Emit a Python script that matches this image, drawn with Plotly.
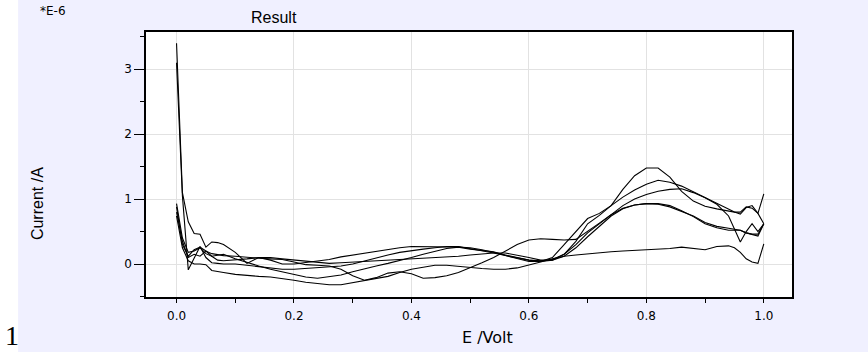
import plotly.graph_objects as go

# shared potential grid (V)
E_volt = [0.00, 0.01, 0.02, 0.03, 0.04, 0.05, 0.06, 0.07, 0.08,
          0.10, 0.12, 0.14, 0.16, 0.18, 0.20, 0.22, 0.24, 0.26, 0.28, 0.30,
          0.32, 0.34, 0.36, 0.38, 0.40, 0.42, 0.44, 0.46, 0.48, 0.50,
          0.52, 0.54, 0.56, 0.58, 0.60, 0.62, 0.64, 0.66, 0.68, 0.70,
          0.72, 0.74, 0.76, 0.78, 0.80, 0.82, 0.84, 0.86, 0.88, 0.90,
          0.92, 0.94, 0.95, 0.96, 0.97, 0.98, 0.99, 1.00]

# currents in units of 1E-6 A
scan_a = [3.40, 1.10, 0.65, 0.47, 0.46, 0.26, 0.34, 0.33, 0.30,
          0.18, 0.01, 0.10, 0.06, 0.00, 0.00, 0.02, 0.04, 0.07, 0.11, 0.14,
          0.17, 0.20, 0.23, 0.25, 0.27, 0.27, 0.27, 0.27, 0.26, 0.23,
          0.21, 0.19, 0.13, 0.08, 0.04, 0.04, 0.10, 0.30, 0.50, 0.70,
          0.78, 0.90, 1.15, 1.36, 1.48, 1.48, 1.34, 1.12, 0.97, 0.89,
          0.85, 0.82, 0.80, 0.80, 0.88, 0.86, 0.78, 1.08]

scan_b = [3.10, 1.05, -0.09, 0.10, 0.27, 0.10, 0.02, 0.01, 0.00,
          0.00, -0.02, -0.04, -0.06, -0.08, -0.08, -0.07, -0.06, -0.05, -0.03, 0.00,
          0.05, 0.09, 0.14, 0.18, 0.21, 0.23, 0.25, 0.27, 0.27, 0.24,
          0.21, 0.17, 0.13, 0.09, 0.06, 0.04, 0.06, 0.15, 0.35, 0.62,
          0.75, 0.90, 1.03, 1.14, 1.23, 1.29, 1.26, 1.20, 1.11, 1.03,
          0.93, 0.84, 0.80, 0.77, 0.87, 0.90, 0.78, 0.62]

scan_c = [0.93, 0.40, 0.18, 0.20, 0.25, 0.16, 0.12, 0.14, 0.15,
          0.08, 0.02, -0.03, -0.08, -0.12, -0.16, -0.20, -0.22, -0.20, -0.17, -0.12,
          -0.07, -0.03, 0.01, 0.05, 0.10, 0.15, 0.20, 0.24, 0.26, 0.25,
          0.22, 0.18, 0.13, 0.09, 0.06, 0.05, 0.07, 0.15, 0.30, 0.48,
          0.62, 0.77, 0.90, 1.00, 1.07, 1.12, 1.15, 1.16, 1.10, 1.02,
          0.92, 0.74, 0.55, 0.34, 0.50, 0.62, 0.50, 0.62]

scan_d = [0.88, 0.30, 0.12, 0.22, 0.26, 0.20, 0.12, 0.06, 0.05,
          0.06, 0.08, 0.10, 0.10, 0.08, 0.06, 0.04, 0.02, 0.01, 0.02, 0.03,
          0.04, 0.05, 0.06, 0.07, 0.07, 0.08, 0.10, 0.11, 0.12, 0.14,
          0.16, 0.17, 0.17, 0.14, 0.10, 0.06, 0.06, 0.12, 0.25, 0.42,
          0.58, 0.74, 0.85, 0.91, 0.93, 0.92, 0.88, 0.81, 0.74, 0.64,
          0.58, 0.55, 0.53, 0.52, 0.48, 0.46, 0.46, 0.62]

scan_e = [0.74, 0.25, 0.05, 0.00, 0.00, -0.01, -0.10, -0.12, -0.13,
          -0.16, -0.18, -0.19, -0.20, -0.22, -0.25, -0.28, -0.30, -0.32, -0.32, -0.29,
          -0.26, -0.23, -0.19, -0.13, -0.08, -0.05, -0.02, -0.02, -0.04, -0.05,
          -0.07, -0.08, -0.08, -0.06, -0.02, 0.03, 0.08, 0.12, 0.14, 0.16,
          0.18, 0.19, 0.20, 0.21, 0.21, 0.22, 0.24, 0.26, 0.24, 0.22,
          0.27, 0.28, 0.25, 0.18, 0.08, 0.03, 0.01, 0.31]

scan_f = [0.80, 0.35, 0.10, 0.15, 0.12, 0.20, 0.16, 0.14, 0.13,
          0.12, 0.10, 0.09, 0.08, 0.07, 0.03, -0.01, -0.02, -0.03, -0.08, -0.18,
          -0.25, -0.21, -0.14, -0.12, -0.15, -0.22, -0.21, -0.18, -0.13, -0.06,
          0.02, 0.10, 0.20, 0.30, 0.37, 0.39, 0.38, 0.37, 0.38, 0.50,
          0.63, 0.76, 0.86, 0.91, 0.93, 0.93, 0.90, 0.82, 0.73, 0.62,
          0.56, 0.52, 0.52, 0.52, 0.48, 0.45, 0.43, 0.62]

scans = [scan_a, scan_b, scan_c, scan_d, scan_e, scan_f]

x_ticks = [0.0, 0.2, 0.4, 0.6, 0.8, 1.0]
x_tick_text = ["0.0", "0.2", "0.4", "0.6", "0.8", "1.0"]
y_ticks = [0, 1, 2, 3]
y_tick_text = ["0", "1", "2", "3"]

fig = go.Figure()
for s in scans:
    fig.add_trace(go.Scatter(x=E_volt, y=s, mode="lines",
                             line=dict(color="black", width=1.1),
                             showlegend=False, hoverinfo="skip"))

tick_font = dict(family="DejaVu Sans", size=12, color="black")

fig.update_layout(
    width=868, height=352,
    margin=dict(l=146, r=76, t=32, b=55),
    paper_bgcolor="#F0F0FF",
    plot_bgcolor="white",
    showlegend=False,
    xaxis=dict(range=[-0.052, 1.048], tickvals=x_ticks, ticktext=x_tick_text,
               showgrid=True, gridcolor="#E2E2E2", gridwidth=1,
               zeroline=False, showline=True, linecolor="black", linewidth=1.5,
               mirror=True, ticks="", ticklabelstandoff=7,
               minor=dict(dtick=0.1, tick0=0, ticks="outside", ticklen=4,
                          tickcolor="black", showgrid=False),
               tickfont=tick_font),
    yaxis=dict(range=[-0.508, 3.574], tickvals=y_ticks, ticktext=y_tick_text,
               showgrid=True, gridcolor="#E2E2E2", gridwidth=1,
               zeroline=False, showline=True, linecolor="black", linewidth=1.5,
               mirror=True, ticks="outside", ticklen=10, tickcolor="black",
               minor=dict(dtick=0.5, tick0=0, ticks="outside", ticklen=4,
                          tickcolor="black", showgrid=False),
               tickfont=tick_font),
    shapes=[dict(type="rect", xref="paper", yref="paper",
                 x0=-0.25, x1=-0.198, y0=-0.3, y1=1.3,
                 fillcolor="white", line=dict(width=0), layer="below")],
    annotations=[
        dict(text="Result", xref="paper", yref="paper", x=0.198, y=1.0566,
             showarrow=False, xanchor="center", yanchor="middle",
             font=dict(family="Liberation Sans", size=16, color="black")),
        dict(text="*E-6", xref="paper", yref="paper", x=-0.144, y=1.079,
             showarrow=False, xanchor="center", yanchor="middle",
             font=dict(family="DejaVu Sans", size=12, color="black")),
        dict(text="Current /A", xref="paper", yref="paper", x=-0.167, y=0.351,
             showarrow=False, xanchor="center", yanchor="middle", textangle=-90,
             font=dict(family="Liberation Sans Narrow, Liberation Sans", size=16, color="black")),
        dict(text="E /Volt", xref="paper", yref="paper", x=0.529, y=-0.151,
             showarrow=False, xanchor="center", yanchor="middle",
             font=dict(family="DejaVu Sans", size=16, color="black")),
        dict(text="1", xref="paper", yref="paper", x=-0.2074, y=-0.145,
             showarrow=False, xanchor="center", yanchor="middle",
             font=dict(family="Liberation Serif", size=28, color="black")),
    ],
)

fig.write_html("out.html", config={"displayModeBar": False},
               post_script="document.body.style.margin='0px';")
